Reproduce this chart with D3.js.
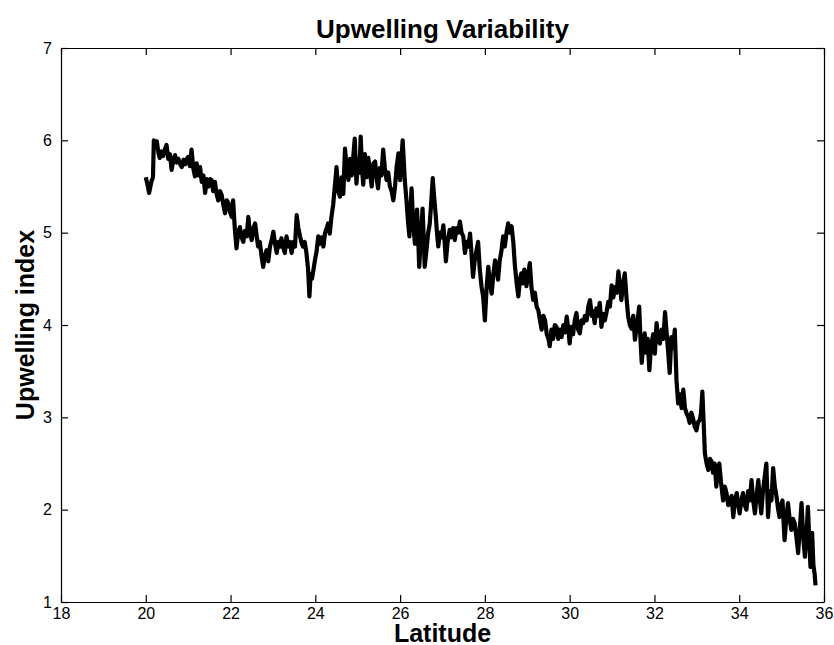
<!DOCTYPE html>
<html>
<head>
<meta charset="utf-8">
<script src="https://cdn.jsdelivr.net/npm/d3@7"></script>
<style>
  body { margin: 0; background: #fff; }
  svg { display: block; font-family: "Liberation Sans", Arial, Helvetica, sans-serif; }
  .axis path, .axis line { stroke: #000; stroke-width: 1.2; }
  .axis text { font-size: 16px; fill: #000; }
</style>
</head>
<body>
<div id="chart"></div>
<script>
// latitude (deg N) of each sample
var latitude = [
  20.00,20.04,20.08,20.13,20.17,20.19,20.23,20.26,20.30,20.33,20.37,20.41,20.45,20.49,20.53,20.57,20.61,20.65,20.69,20.73,
  20.77,20.81,20.85,20.89,20.93,20.97,21.00,21.04,21.08,21.12,21.16,21.20,21.24,21.28,21.32,21.36,21.40,21.44,21.48,21.52,
  21.55,21.59,21.63,21.67,21.71,21.75,21.79,21.83,21.87,21.91,21.95,21.99,22.03,22.06,22.10,22.14,22.18,22.22,22.26,22.30,
  22.34,22.38,22.42,22.46,22.50,22.54,22.58,22.62,22.65,22.69,22.73,22.77,22.81,22.85,22.89,22.93,22.97,23.01,23.05,23.09,
  23.13,23.17,23.20,23.24,23.28,23.32,23.36,23.40,23.44,23.48,23.52,23.56,23.60,23.64,23.68,23.71,23.75,23.79,23.83,23.86,
  23.89,23.92,23.95,23.99,24.03,24.07,24.11,24.15,24.19,24.23,24.27,24.30,24.34,24.38,24.42,24.46,24.50,24.54,24.58,24.62,
  24.66,24.70,24.74,24.78,24.82,24.86,24.90,24.93,24.97,25.01,25.04,25.07,25.10,25.13,25.17,25.21,25.25,25.29,25.33,25.37,
  25.41,25.45,25.48,25.52,25.56,25.60,25.64,25.68,25.72,25.76,25.80,25.84,25.88,25.92,25.96,26.00,26.03,26.06,26.09,26.11,
  26.15,26.19,26.22,26.25,26.27,26.31,26.35,26.38,26.40,26.43,26.45,26.49,26.53,26.56,26.58,26.62,26.66,26.70,26.73,26.77,
  26.80,26.84,26.87,26.90,26.94,26.98,27.02,27.05,27.08,27.12,27.17,27.21,27.25,27.29,27.33,27.37,27.41,27.45,27.49,27.53,
  27.57,27.61,27.65,27.68,27.72,27.76,27.80,27.84,27.88,27.92,27.96,28.00,28.04,28.08,28.12,28.16,28.20,28.24,28.28,28.31,
  28.35,28.39,28.43,28.47,28.51,28.55,28.59,28.63,28.67,28.71,28.75,28.79,28.83,28.86,28.89,28.93,28.98,29.02,29.06,29.10,
  29.14,29.18,29.22,29.26,29.30,29.34,29.38,29.42,29.46,29.50,29.53,29.57,29.61,29.65,29.69,29.73,29.77,29.81,29.85,29.89,
  29.93,29.97,30.00,30.04,30.08,30.12,30.16,30.20,30.24,30.28,30.32,30.36,30.40,30.44,30.48,30.52,30.55,30.59,30.63,30.67,
  30.71,30.75,30.79,30.83,30.87,30.91,30.95,30.99,31.03,31.07,31.11,31.15,31.19,31.22,31.26,31.30,31.34,31.38,31.42,31.46,
  31.50,31.54,31.59,31.64,31.67,31.70,31.74,31.77,31.81,31.84,31.88,31.91,31.93,31.97,32.01,32.05,32.09,32.13,32.17,32.21,
  32.25,32.29,32.32,32.36,32.40,32.44,32.48,32.52,32.56,32.60,32.64,32.68,32.72,32.76,32.80,32.83,32.87,32.91,32.95,32.99,
  33.03,33.07,33.10,33.13,33.16,33.19,33.23,33.27,33.31,33.35,33.38,33.42,33.46,33.50,33.53,33.57,33.62,33.66,33.70,33.74,
  33.78,33.82,33.86,33.90,33.94,33.98,34.01,34.05,34.09,34.13,34.17,34.21,34.25,34.29,34.33,34.37,34.41,34.45,34.49,34.52,
  34.56,34.60,34.64,34.68,34.72,34.76,34.80,34.84,34.88,34.92,34.95,34.99,35.02,35.07,35.11,35.15,35.19,35.23,35.27,35.31,
  35.35,35.39,35.43,35.47,35.51,35.55,35.59,35.62,35.66,35.68,35.72,35.75,35.78,35.80
];

// upwelling index
var upwelling = [
  5.60,5.52,5.43,5.55,5.60,6.00,5.92,5.99,5.86,5.81,5.88,5.83,5.90,5.95,5.80,5.85,5.68,5.78,5.84,5.76,
  5.80,5.74,5.71,5.79,5.74,5.80,5.82,5.72,5.90,5.70,5.61,5.75,5.62,5.71,5.55,5.62,5.43,5.58,5.50,5.58,
  5.57,5.45,5.55,5.42,5.35,5.45,5.41,5.30,5.21,5.35,5.32,5.22,5.17,5.35,5.05,4.83,5.00,5.06,4.95,4.90,
  5.02,4.96,5.17,4.98,4.92,5.05,5.10,4.95,4.85,4.90,4.75,4.63,4.75,4.81,4.69,4.85,4.92,5.01,4.88,4.78,
  4.90,4.85,4.94,4.84,4.78,4.96,4.85,4.90,4.78,4.90,4.85,5.19,5.05,4.96,4.88,4.85,4.90,4.78,4.60,4.31,
  4.55,4.50,4.58,4.70,4.80,4.96,4.88,4.95,4.85,5.00,5.05,5.10,4.99,5.17,5.30,5.50,5.71,5.45,5.39,5.60,
  5.42,5.91,5.70,5.57,5.80,5.62,5.85,6.02,5.53,5.80,5.65,6.04,5.70,5.52,5.85,5.60,5.81,5.65,5.50,5.75,
  5.77,5.58,5.48,5.70,5.62,5.90,5.70,5.57,5.65,5.50,5.45,5.35,5.50,5.72,5.86,5.57,5.80,6.00,5.75,5.57,
  5.35,5.10,4.96,5.30,5.48,5.10,4.88,5.10,5.25,4.90,4.63,4.95,5.26,4.90,4.63,4.80,4.99,5.10,5.30,5.59,
  5.40,5.19,5.00,4.85,5.00,4.95,5.08,4.90,4.69,4.90,5.03,4.95,5.05,4.92,5.05,5.00,5.12,5.00,4.96,4.78,
  4.90,4.85,4.99,4.80,4.52,4.70,4.80,4.90,4.60,4.42,4.30,4.05,4.40,4.63,4.45,4.34,4.55,4.70,4.60,4.49,
  4.70,4.80,4.96,4.85,5.00,5.10,5.00,5.07,4.90,4.63,4.45,4.31,4.50,4.56,4.45,4.60,4.42,4.55,4.67,4.40,
  4.27,4.35,4.20,4.16,4.05,3.95,4.10,4.05,3.90,3.85,3.77,3.95,3.85,4.00,3.98,3.85,3.95,3.87,4.00,3.92,
  4.09,3.95,3.80,3.98,3.90,4.05,4.13,3.95,3.91,4.05,4.02,4.10,4.05,4.20,4.27,4.10,4.15,4.02,4.18,4.10,
  4.24,3.98,4.12,4.05,4.14,4.25,4.20,4.43,4.30,4.41,4.35,4.58,4.40,4.27,4.45,4.56,4.30,4.09,4.00,3.96,
  4.10,3.84,4.00,4.20,3.85,3.59,3.80,3.91,3.70,3.85,3.51,3.70,3.80,3.90,3.69,4.02,3.85,3.80,3.95,3.85,
  4.14,3.90,3.73,3.48,3.87,3.75,3.95,3.40,3.15,3.25,3.10,3.30,3.10,3.04,3.00,2.94,3.05,2.99,2.90,2.86,
  2.95,2.97,3.05,3.28,2.95,2.61,2.50,2.43,2.55,2.52,2.40,2.50,2.25,2.45,2.50,2.30,2.10,2.25,2.18,2.05,
  2.07,2.15,1.92,2.10,2.18,2.05,1.96,2.10,2.18,2.05,2.00,2.20,2.10,2.32,2.10,1.96,2.15,2.32,2.10,1.96,
  2.20,2.35,2.50,1.92,2.20,2.10,2.45,2.25,2.14,2.00,1.92,2.05,2.10,1.67,1.90,2.07,1.90,1.78,1.90,1.85,
  1.70,1.53,1.80,2.07,1.70,1.49,1.75,2.03,1.60,1.38,1.75,1.40,1.30,1.18
];

var xTicks = [18, 20, 22, 24, 26, 28, 30, 32, 34, 36];
var yTicks = [1, 2, 3, 4, 5, 6, 7];

var width = 834, height = 645;
var margin = {top: 48, right: 10, bottom: 43, left: 61};
var innerW = 824 - margin.left;
var innerH = 602 - margin.top;

var svg = d3.select('#chart')
    .append('svg')
    .attr('width', width)
    .attr('height', height);

var g = svg.append('g')
    .attr('transform', 'translate(' + margin.left + ',' + margin.top + ')');

var x = d3.scaleLinear().domain([18, 36]).range([0, innerW]);
var y = d3.scaleLinear().domain([1, 7]).range([innerH, 0]);

//Box axes with inward ticks on all four sides
g.append('g')
    .attr('class', 'axis')
    .attr('transform', 'translate(0,' + innerH + ')')
    .call(d3.axisBottom(x).tickValues(xTicks).tickSizeInner(-7).tickSizeOuter(0).tickPadding(6).tickFormat(d3.format('d')));

g.append('g')
    .attr('class', 'axis')
    .call(d3.axisTop(x).tickValues(xTicks).tickSizeInner(-7).tickSizeOuter(0).tickFormat(''));

g.append('g')
    .attr('class', 'axis')
    .call(d3.axisLeft(y).tickValues(yTicks).tickSizeInner(-7).tickSizeOuter(0).tickPadding(9).tickFormat(d3.format('d')));

g.append('g')
    .attr('class', 'axis')
    .attr('transform', 'translate(' + innerW + ',0)')
    .call(d3.axisRight(y).tickValues(yTicks).tickSizeInner(-7).tickSizeOuter(0).tickFormat(''));

//The series
var line = d3.line()
    .x(function(d, i){ return x(latitude[i]); })
    .y(function(d){ return y(d); });

g.append('path')
    .datum(upwelling)
    .attr('d', line)
    .style('fill', 'none')
    .style('stroke', '#000')
    .style('stroke-width', 4.2)
    .style('stroke-linejoin', 'round');

//Titles
svg.append('text')
    .attr('x', margin.left + innerW / 2)
    .attr('y', 38)
    .attr('text-anchor', 'middle')
    .style('font-size', '26px')
    .style('font-weight', 700)
    .text('Upwelling Variability');

svg.append('text')
    .attr('x', margin.left + innerW / 2)
    .attr('y', 642)
    .attr('text-anchor', 'middle')
    .style('font-size', '25px')
    .style('font-weight', 700)
    .text('Latitude');

svg.append('text')
    .attr('transform', 'translate(34,' + (margin.top + innerH / 2) + ') rotate(-90)')
    .attr('text-anchor', 'middle')
    .style('font-size', '25px')
    .style('font-weight', 700)
    .text('Upwelling index');
</script>
</body>
</html>
